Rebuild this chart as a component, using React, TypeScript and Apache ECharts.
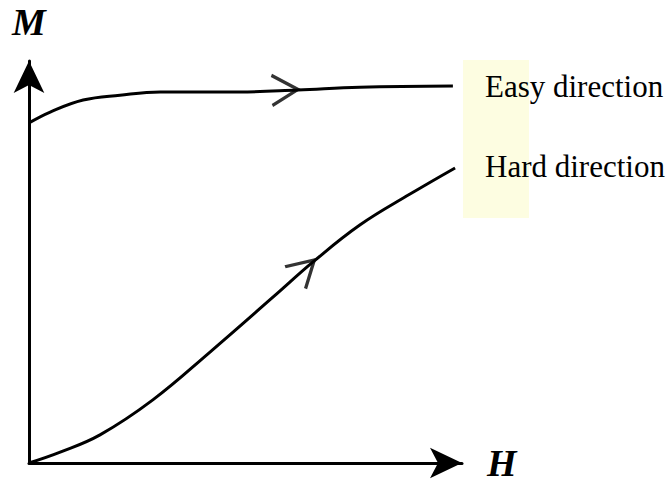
import React, { useEffect, useRef } from "react";
import * as echarts from "echarts";

// Field H (arbitrary units) and magnetisation M (arbitrary units)
const easyH = [0, 0.49, 1.25, 2.1, 3.03, 4.87, 6.21, 7.64, 9.79];
const easyM = [8.46, 8.73, 9.03, 9.15, 9.23, 9.23, 9.28, 9.35, 9.38];
const hardH = [0, 0.72, 1.64, 2.86, 4.18, 5.64, 6.58, 7.64, 8.8, 9.84];
const hardM = [0, 0.27, 0.7, 1.57, 2.76, 4.13, 5.02, 5.92, 6.69, 7.34];
// direction arrows on the curves
const arrowH = [5.91, 6.37];
const arrowM = [9.28, 4.83];
const arrowAngle = [2, 43];
const curveLabels = ["Easy direction", "Hard direction"];
const axisNames = { x: "H", y: "M" };

export default function App() {
  const ref = useRef<HTMLDivElement>(null);
  useEffect(() => {
    if (!ref.current) return;
    const chart = echarts.init(ref.current, null, { renderer: "svg" });
    const nameStyle = {
      fontFamily: "Liberation Serif",
      fontStyle: "italic" as const,
      fontWeight: "bold" as const,
      fontSize: 38,
      color: "#000",
    };
    const axisCommon = {
      type: "value" as const,
      min: 0,
      max: 10,
      splitLine: { show: false },
      axisTick: { show: false },
      axisLabel: { show: false },
      nameTextStyle: nameStyle,
    };
    chart.setOption({
      animation: false,
      backgroundColor: "#fff",
      grid: { left: 29, right: 209, top: 61, bottom: 20 },
      xAxis: {
        ...axisCommon,
        name: axisNames.x,
        nameLocation: "end",
        nameGap: 25,
        axisLine: {
          show: true,
          symbol: ["none", "arrow"],
          symbolSize: [23, 32],
          lineStyle: { color: "#000", width: 3 },
        },
      },
      yAxis: {
        ...axisCommon,
        name: axisNames.y,
        nameLocation: "end",
        nameGap: 20,
        axisLine: {
          show: true,
          symbol: ["none", "arrow"],
          symbolSize: [23, 32],
          lineStyle: { color: "#000", width: 3 },
        },
      },
      series: [
        {
          type: "line",
          smooth: 0.4,
          showSymbol: false,
          silent: true,
          lineStyle: { color: "#000", width: 3 },
          data: easyH.map((h, i) => [h, easyM[i]]),
        },
        {
          type: "line",
          smooth: 0.4,
          showSymbol: false,
          silent: true,
          lineStyle: { color: "#000", width: 3 },
          data: hardH.map((h, i) => [h, hardM[i]]),
        },
        {
          type: "scatter",
          silent: true,
          symbol: "path://M0,0L26,15L0,30",
          symbolSize: [26, 30],
          itemStyle: { color: "rgba(0,0,0,0)", borderColor: "#000", borderWidth: 3.2 },
          data: arrowH.map((h, i) => ({ value: [h, arrowM[i]], symbolRotate: arrowAngle[i] })),
        },
      ],
      graphic: [
        {
          type: "rect",
          z: -1,
          shape: { x: 463, y: 60, width: 66, height: 158 },
          style: { fill: "#fdfde1" },
        },
        {
          type: "text",
          x: 485,
          y: 86.5,
          style: {
            text: curveLabels[0],
            fontFamily: "Liberation Serif",
            fontSize: 31,
            fill: "#000",
            verticalAlign: "middle",
            align: "left",
          },
        },
        {
          type: "text",
          x: 485,
          y: 166.5,
          style: {
            text: curveLabels[1],
            fontFamily: "Liberation Serif",
            fontSize: 31,
            fill: "#000",
            verticalAlign: "middle",
            align: "left",
          },
        },
      ],
    });
    return () => chart.dispose();
  }, []);
  return (
    <div
      ref={ref}
      style={{ position: "absolute", left: 0, top: 0, width: 671, height: 483, background: "#fff" }}
    />
  );
}
